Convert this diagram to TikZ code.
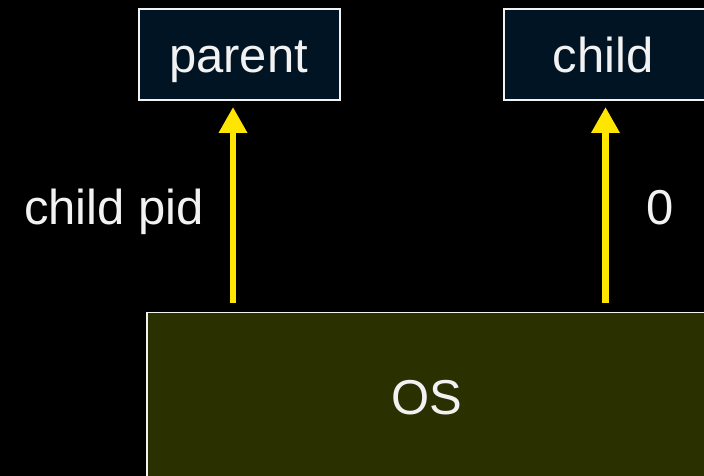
\documentclass[tikz,border=0pt]{standalone}
\usepackage{fontspec}
\setmainfont{Liberation Sans}
\usetikzlibrary{arrows.meta}
\definecolor{boxfill}{HTML}{011423}
\definecolor{osfill}{HTML}{2B3000}
\definecolor{arrowyellow}{HTML}{FFE600}
\definecolor{txtwhite}{HTML}{F2F2F2}
\tikzset{
  procbox/.style={draw=txtwhite, line width=1.5bp, fill=boxfill, inner sep=0pt,
    minimum height=91bp},
  osbox/.style={draw=txtwhite, line width=1.5bp, fill=osfill, inner sep=0pt,
    minimum width=580bp, minimum height=180bp},
  txt/.style={text=txtwhite, inner sep=0pt, anchor=base, font=\fontsize{49bp}{58bp}\selectfont},
  yarrow/.style={draw=arrowyellow, line width=6.7bp,
    -{Triangle[width=27bp,length=26bp]}},
}
\begin{document}
\begin{tikzpicture}[x=1bp,y=-1bp]
\fill[black] (0,0) rectangle (704,476);
\useasboundingbox (0,0) rectangle (704,476);
\begin{scope}
\clip (0,0) rectangle (704,476);
\node[procbox, minimum width=201bp] (parent) at (239.5,54.5) {};
\node[procbox, minimum width=202bp] (child) at (605,54.5) {};
\node[osbox, anchor=north west] (os) at (146,312) {};
\end{scope}
\node[txt] (parentlabel) at (238.5,73) {parent};
\node[txt] (childlabel) at (603,73) {child};
\node[txt] (oslabel) at (427,414) {OS};
\node[txt] (pidlabel) at (114,225) {child pid};
\node[txt] (zerolabel) at (660,225) {0};
\coordinate (ps) at (233,302.7);
\coordinate (pe) at (233,107);
\coordinate (cs) at (605.5,302.7);
\coordinate (ce) at (605.5,107);
\draw[yarrow] (ps) -- (pe);
\draw[yarrow] (cs) -- (ce);
\end{tikzpicture}
\end{document}
